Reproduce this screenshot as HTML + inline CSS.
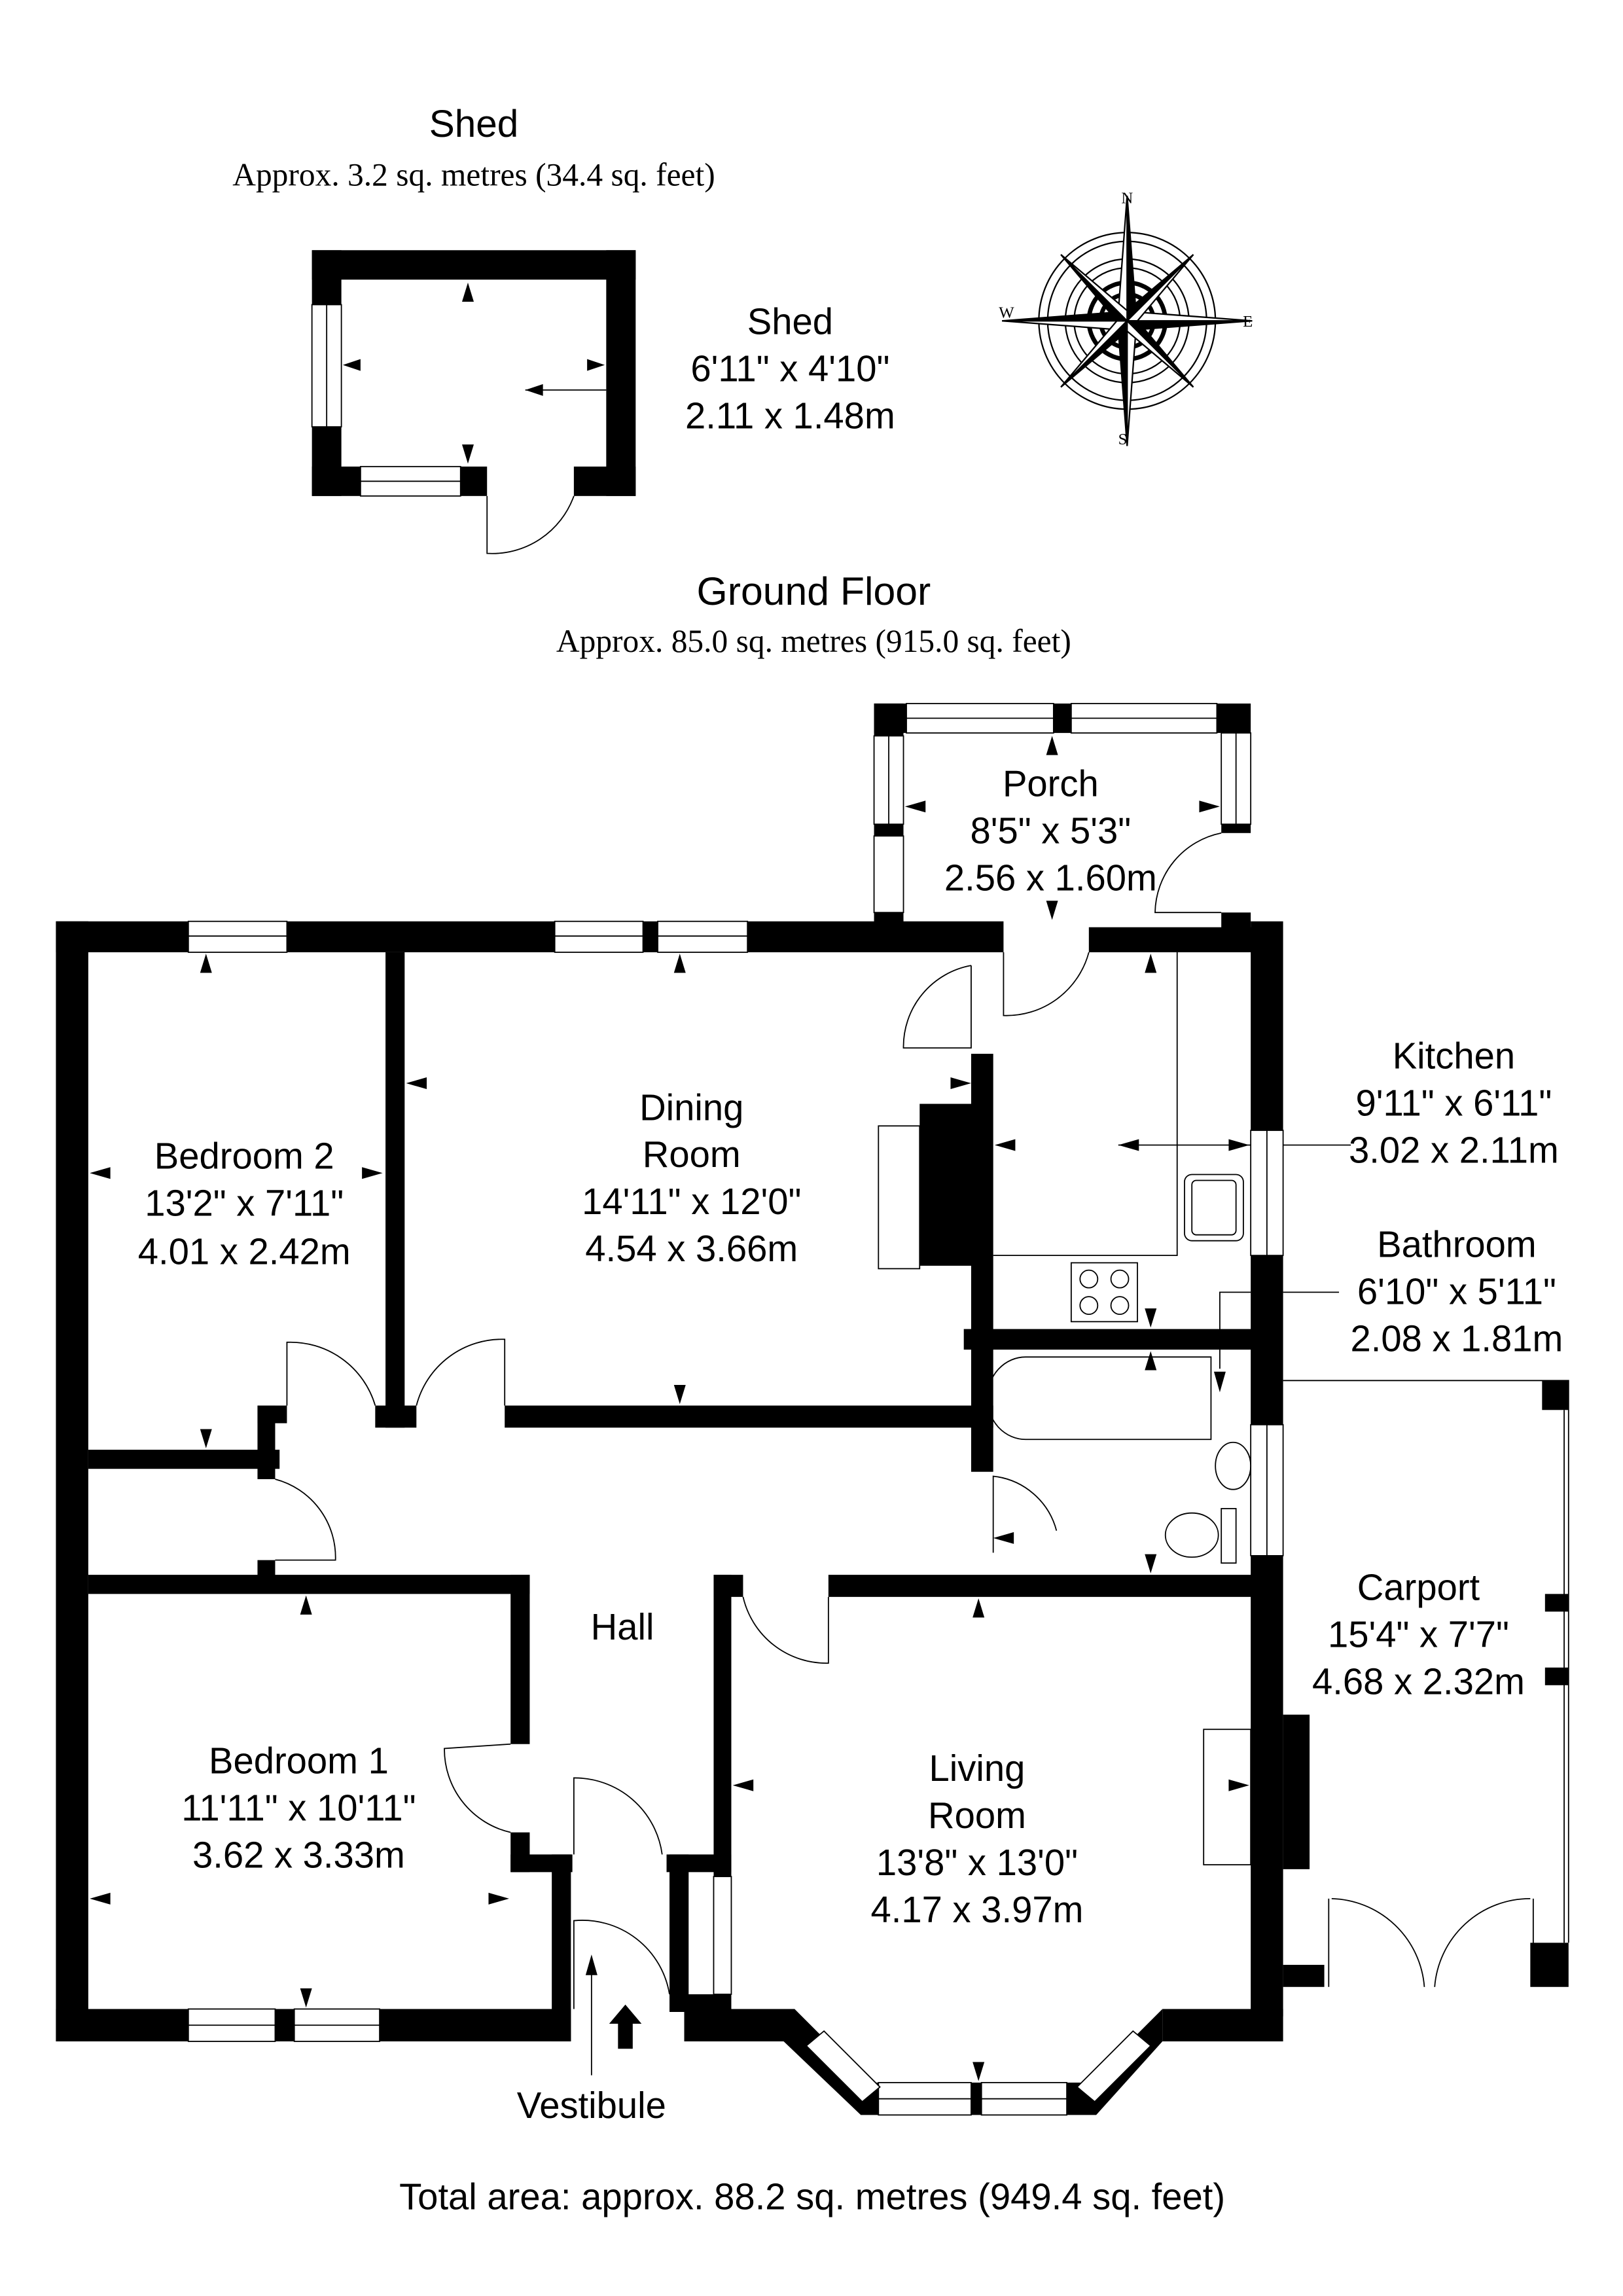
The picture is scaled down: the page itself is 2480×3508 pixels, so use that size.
<!DOCTYPE html>
<html><head><meta charset="utf-8"><style>
html,body{margin:0;padding:0;background:#fff;}
svg{display:block;}
text{font-family:"Liberation Sans",sans-serif;fill:#000;}
.s{font-family:"Liberation Serif",serif;}
</style></head><body>
<svg width="2480" height="3508" viewBox="0 0 1103 1560" preserveAspectRatio="none" xmlns="http://www.w3.org/2000/svg">
<rect width="1103" height="1560" fill="#fff"/>
<text x="322" y="93" font-size="26" text-anchor="middle">Shed</text>
<text x="322" y="126" font-size="22" text-anchor="middle" class="s">Approx. 3.2 sq. metres (34.4 sq. feet)</text>
<text x="553" y="411" font-size="27" text-anchor="middle">Ground Floor</text>
<text x="553" y="443" font-size="22" text-anchor="middle" class="s">Approx. 85.0 sq. metres (915.0 sq. feet)</text>
<text x="552" y="1501" font-size="25" text-anchor="middle">Total area: approx. 88.2 sq. metres (949.4 sq. feet)</text>

<g fill="#000">
<rect x="212" y="170" width="220" height="20"/>
<rect x="212" y="170" width="20" height="37"/>
<rect x="212" y="290" width="20" height="47"/>
<rect x="412" y="170" width="20" height="167"/>
<rect x="212" y="317" width="33" height="20"/>
<rect x="313" y="317" width="18" height="20"/>
<rect x="390" y="317" width="42" height="20"/>
</g>
<g fill="#fff" stroke="#000" stroke-width="0.8">
<rect x="212" y="207" width="20" height="83"/><line x1="222" y1="207" x2="222" y2="290"/>
<rect x="245" y="317" width="68" height="20"/><line x1="245" y1="327" x2="313" y2="327"/>
</g>
<path d="M331,337 L331,376 A59,59 0 0 0 390,337" fill="none" stroke="#000" stroke-width="0.8"/>
<line x1="357" y1="265" x2="412" y2="265" stroke="#000" stroke-width="0.8"/>
<g fill="#000">
<polygon points="318,192 314,205 322,205"/>
<polygon points="233,248 245,244 245,252"/>
<polygon points="411,248 399,244 399,252"/>
<polygon points="318,315 314,302 322,302"/>
<polygon points="357,265 369,261 369,269"/>
</g>
<text x="537" y="227" font-size="25" text-anchor="middle">Shed</text>
<text x="537" y="259" font-size="25" text-anchor="middle">6'11" x 4'10"</text>
<text x="537" y="291" font-size="25" text-anchor="middle">2.11 x 1.48m</text>

<g transform="translate(766,218)" stroke="#000" fill="none" stroke-width="1">
<circle r="60"/><circle r="54"/><circle r="42"/><circle r="36"/><circle r="26" stroke-width="3"/><circle r="18" stroke-width="3"/>
<polygon points="0,-85 6,-6 0,0" fill="#000"/><polygon points="0,-85 -6,-6 0,0" fill="#fff"/>
<polygon points="0,85 -6,6 0,0" fill="#000"/><polygon points="0,85 6,6 0,0" fill="#fff"/>
<polygon points="85,0 6,6 0,0" fill="#000"/><polygon points="85,0 6,-6 0,0" fill="#fff"/>
<polygon points="-85,0 -6,-6 0,0" fill="#000"/><polygon points="-85,0 -6,6 0,0" fill="#fff"/>
<polygon points="45,-45 0,-7 0,0" fill="#000"/><polygon points="45,-45 7,0 0,0" fill="#fff"/>
<polygon points="-45,45 0,7 0,0" fill="#000"/><polygon points="-45,45 -7,0 0,0" fill="#fff"/>
<polygon points="45,45 7,0 0,0" fill="#000"/><polygon points="45,45 0,7 0,0" fill="#fff"/>
<polygon points="-45,-45 -7,0 0,0" fill="#000"/><polygon points="-45,-45 0,-7 0,0" fill="#fff"/>
</g>
<g font-size="11" class="s" text-anchor="middle">
<text x="766" y="138" class="s">N</text><text x="763" y="302" class="s">S</text>
<text x="848" y="222" class="s">E</text><text x="684" y="216" class="s">W</text>
</g>

<g fill="#000">
<rect x="38" y="626" width="22" height="761"/>
<rect x="38" y="626" width="644" height="21"/>
<rect x="740" y="630" width="130" height="17"/>
<rect x="850" y="626" width="22" height="744"/>
<rect x="594" y="478" width="256" height="20"/>
<rect x="594" y="478" width="20" height="22"/>
<rect x="594" y="560" width="20" height="8"/>
<rect x="594" y="620" width="20" height="10"/>
<rect x="830" y="560" width="20" height="6"/>
<rect x="830" y="620" width="20" height="14"/>
<rect x="262" y="647" width="13" height="323"/>
<rect x="255" y="955" width="28" height="15"/>
<rect x="343" y="955" width="332" height="15"/>
<rect x="60" y="985" width="130" height="13"/>
<rect x="175" y="955" width="20" height="12"/>
<rect x="175" y="955" width="12" height="50"/>
<rect x="660" y="716" width="15" height="284"/>
<rect x="625" y="750" width="40" height="110"/>
<rect x="655" y="903" width="215" height="14"/>
<rect x="60" y="1070" width="300" height="13"/>
<rect x="175" y="1060" width="12" height="12"/>
<rect x="347" y="1070" width="13" height="115"/>
<rect x="347" y="1245" width="13" height="27"/>
<rect x="347" y="1260" width="42" height="12"/>
<rect x="375" y="1260" width="13" height="127"/>
<rect x="38" y="1365" width="350" height="22"/>
<rect x="453" y="1260" width="44" height="12"/>
<rect x="455" y="1260" width="13" height="107"/>
<rect x="465" y="1355" width="32" height="32"/>
<rect x="485" y="1070" width="12" height="205"/>
<rect x="485" y="1070" width="20" height="15"/>
<rect x="563" y="1070" width="307" height="15"/>
<rect x="475" y="1365" width="65" height="22"/>
<rect x="790" y="1365" width="82" height="22"/>
<rect x="872" y="1165" width="18" height="105"/>
<rect x="585" y="1415" width="160" height="22"/>
<polygon points="530,1365 540,1365 600,1425 585,1437 520,1375"/>
<polygon points="790,1365 790,1387 745,1437 730,1425"/>
<rect x="1048" y="938" width="18" height="20"/>
<rect x="1050" y="1083" width="16" height="12"/>
<rect x="1050" y="1133" width="16" height="12"/>
<rect x="1040" y="1320" width="26" height="30"/>
<rect x="872" y="1335" width="28" height="15"/>
</g>
<g fill="#fff" stroke="#000" stroke-width="0.8">
<rect x="128" y="626" width="67" height="21"/><line x1="128" y1="636" x2="195" y2="636"/>
<rect x="377" y="626" width="60" height="21"/><line x1="377" y1="636" x2="437" y2="636"/>
<rect x="447" y="626" width="61" height="21"/><line x1="447" y1="636" x2="508" y2="636"/>
<rect x="616" y="478" width="100" height="20"/><line x1="616" y1="488" x2="716" y2="488"/>
<rect x="728" y="478" width="99" height="20"/><line x1="728" y1="488" x2="827" y2="488"/>
<rect x="594" y="500" width="20" height="60"/><line x1="604" y1="500" x2="604" y2="620"/>
<rect x="594" y="568" width="20" height="52"/>
<rect x="830" y="498" width="20" height="62"/><line x1="840" y1="498" x2="840" y2="560"/>
<rect x="850" y="768" width="22" height="85"/><line x1="861" y1="768" x2="861" y2="853"/>
<rect x="850" y="968" width="22" height="89"/><line x1="861" y1="968" x2="861" y2="1057"/>
<rect x="128" y="1365" width="59" height="22"/><line x1="128" y1="1376" x2="187" y2="1376"/>
<rect x="200" y="1365" width="58" height="22"/><line x1="200" y1="1376" x2="258" y2="1376"/>
<rect x="485" y="1275" width="12" height="80"/>
<rect x="597" y="1415" width="63" height="22"/><line x1="597" y1="1426" x2="660" y2="1426"/>
<rect x="667" y="1415" width="58" height="22"/><line x1="667" y1="1426" x2="725" y2="1426"/>
<polygon points="548,1390 560,1380 598,1418 586,1428"/>
<polygon points="732,1418 770,1380 782,1390 744,1428"/>
</g>
<g fill="none" stroke="#000" stroke-width="0.8">
<rect x="597" y="765" width="28" height="97"/>
<rect x="818" y="1175" width="32" height="92"/>
<path d="M800,647 L800,853 L675,853"/>
<rect x="805" y="798" width="40" height="45" rx="5"/><rect x="810" y="802" width="30" height="37" rx="3"/>
<rect x="728" y="858" width="45" height="40"/>
<circle cx="740" cy="869" r="6"/><circle cx="761" cy="869" r="6"/><circle cx="740" cy="887" r="6"/><circle cx="761" cy="887" r="6"/>
<path d="M697,922 L823,922 L823,978 L697,978 A26,28 0 0 1 697,922 Z"/>
<path d="M872,938 L1066,938 L1066,1320 M1063,958 L1063,1320"/>
<ellipse cx="838" cy="996" rx="12" ry="16"/>
<ellipse cx="810" cy="1043" rx="18" ry="15"/><rect x="830" y="1025" width="10" height="37"/>
<path d="M682,647 L682,690 A58,58 0 0 0 740,647"/>
<path d="M660,656 L660,712 L614,712 A56,56 0 0 1 660,656"/>
<path d="M830,566 A56,56 0 0 0 785,620 L830,620"/>
<path d="M195,955 L195,912 A60,60 0 0 1 255,955"/>
<path d="M343,955 L343,910 A60,60 0 0 0 283,955"/>
<path d="M187,1005 A55,55 0 0 1 228,1060 L187,1060"/>
<path d="M347,1185 L302,1188 A58,58 0 0 0 347,1245"/>
<path d="M390,1260 L390,1208 A60,60 0 0 1 450,1260"/>
<path d="M390,1365 L390,1305 A60,60 0 0 1 455,1355"/>
<path d="M505,1085 A58,58 0 0 0 563,1130 L563,1085"/>
<path d="M675,1055 L675,1003 A50,50 0 0 1 718,1040"/>
<path d="M905,1290 A65,65 0 0 1 968,1350 M1040,1290 A65,65 0 0 0 975,1350"/>
<path d="M903,1290 L903,1350 M1042,1290 L1042,1335"/>
<line x1="402" y1="1410" x2="402" y2="1335"/>
<line x1="760" y1="778" x2="850" y2="778"/><line x1="872" y1="778" x2="918" y2="778"/>
<path d="M829,930 L829,878 L850,878 M872,878 L910,878"/>
</g>
<polygon points="425,1362 414,1375 420,1375 420,1392 430,1392 430,1375 436,1375" fill="#000"/>
<g fill="#000">
<polygon points="402,1328 398,1342 406,1342"/>
<polygon points="140,648 136,661 144,661"/>
<polygon points="462,648 458,661 466,661"/>
<polygon points="276,736 290,732 290,740"/>
<polygon points="61,797 75,793 75,801"/>
<polygon points="260,797 246,793 246,801"/>
<polygon points="140,984 136,971 144,971"/>
<polygon points="462,954 458,941 466,941"/>
<polygon points="660,736 646,732 646,740"/>
<polygon points="676,778 690,774 690,782"/>
<polygon points="760,778 774,774 774,782"/>
<polygon points="849,778 835,774 835,782"/>
<polygon points="715,500 711,513 719,513"/>
<polygon points="715,625 711,612 719,612"/>
<polygon points="615,548 629,544 629,552"/>
<polygon points="829,548 815,544 815,552"/>
<polygon points="782,648 778,661 786,661"/>
<polygon points="782,902 778,889 786,889"/>
<polygon points="782,918 778,931 786,931"/>
<polygon points="829,946 825,932 833,932"/>
<polygon points="675,1045 689,1041 689,1049"/>
<polygon points="782,1069 778,1056 786,1056"/>
<polygon points="208,1084 204,1097 212,1097"/>
<polygon points="61,1290 75,1286 75,1294"/>
<polygon points="346,1290 332,1286 332,1294"/>
<polygon points="208,1364 204,1351 212,1351"/>
<polygon points="665,1086 661,1099 669,1099"/>
<polygon points="498,1213 512,1209 512,1217"/>
<polygon points="849,1213 835,1209 835,1217"/>
<polygon points="665,1414 661,1401 669,1401"/>
</g>
<g font-size="25" text-anchor="middle">
<text x="714" y="541">Porch</text><text x="714" y="573">8'5" x 5'3"</text><text x="714" y="605">2.56 x 1.60m</text>
<text x="988" y="726">Kitchen</text><text x="988" y="758">9'11" x 6'11"</text><text x="988" y="790">3.02 x 2.11m</text>
<text x="990" y="854">Bathroom</text><text x="990" y="886">6'10" x 5'11"</text><text x="990" y="918">2.08 x 1.81m</text>
<text x="470" y="761">Dining</text><text x="470" y="793">Room</text><text x="470" y="825">14'11" x 12'0"</text><text x="470" y="857">4.54 x 3.66m</text>
<text x="166" y="794">Bedroom 2</text><text x="166" y="826">13'2" x 7'11"</text><text x="166" y="859">4.01 x 2.42m</text>
<text x="423" y="1114">Hall</text>
<text x="964" y="1087">Carport</text><text x="964" y="1119">15'4" x 7'7"</text><text x="964" y="1151">4.68 x 2.32m</text>
<text x="203" y="1205">Bedroom 1</text><text x="203" y="1237">11'11" x 10'11"</text><text x="203" y="1269">3.62 x 3.33m</text>
<text x="664" y="1210">Living</text><text x="664" y="1242">Room</text><text x="664" y="1274">13'8" x 13'0"</text><text x="664" y="1306">4.17 x 3.97m</text>
<text x="402" y="1439">Vestibule</text>
</g>
</svg>
</body></html>
